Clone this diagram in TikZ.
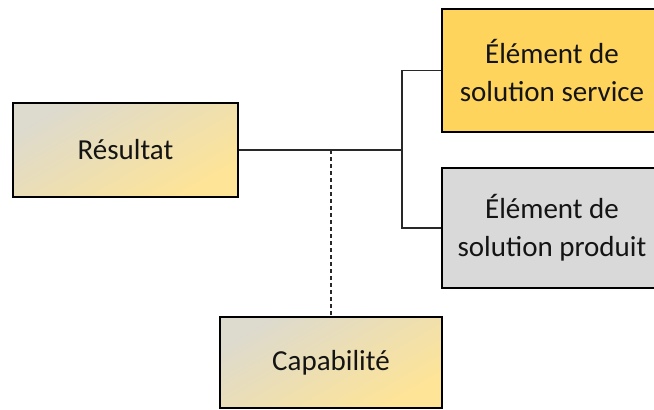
\documentclass[tikz,border=0pt]{standalone}
\usepackage{fontspec}
\setmainfont{Carlito}
\usetikzlibrary{positioning, calc}
\definecolor{BoxGrey}{RGB}{221, 218, 206}
\definecolor{BoxCream}{RGB}{254, 228, 150}
\definecolor{ServiceGold}{RGB}{255, 212, 92}
\definecolor{ProduitGrey}{RGB}{217, 217, 217}
\definecolor{LineGrey}{RGB}{40, 40, 40}
\definecolor{TextDark}{RGB}{20, 20, 20}

\begin{document}
\begin{tikzpicture}[
        x=1pt, y=1pt,
        block/.style={rectangle, draw=black, line width=2pt, text centered, align=center, text=TextDark, font=\fontsize{29}{38}\selectfont, inner sep=0pt},
        shaded/.style={block, shading=axis, top color=BoxGrey, bottom color=BoxCream, shading angle=30},
        link/.style={LineGrey, line width=1.1pt},
        dotlink/.style={LineGrey, line width=1.1pt, dash pattern=on 4pt off 3pt}
    ]
        \useasboundingbox (0,0) rectangle (654,-410);
        \node (res) [shaded, minimum width=225pt, minimum height=94pt] at (125.5,-150) {Résultat};
        \node (svc) [block, fill=ServiceGold, minimum width=220pt, minimum height=123pt] at (552,-70.5) {Élément de\\solution service};
        \node (prod) [block, fill=ProduitGrey, minimum width=220pt, minimum height=120pt] at (552,-228) {Élément de\\solution produit};
        \node (cap) [shaded, minimum width=222pt, minimum height=91pt] at (331,-362.5) {Capabilité};

        \coordinate (jn) at (402,-150);
        \coordinate (dp) at (331,-150);

        \draw [link] (res) -- (jn);
        \draw [link] (jn) |- (svc);
        \draw [link] (jn) |- (prod);
        \draw [dotlink] (dp) -- (cap);
    \end{tikzpicture}
\end{document}
